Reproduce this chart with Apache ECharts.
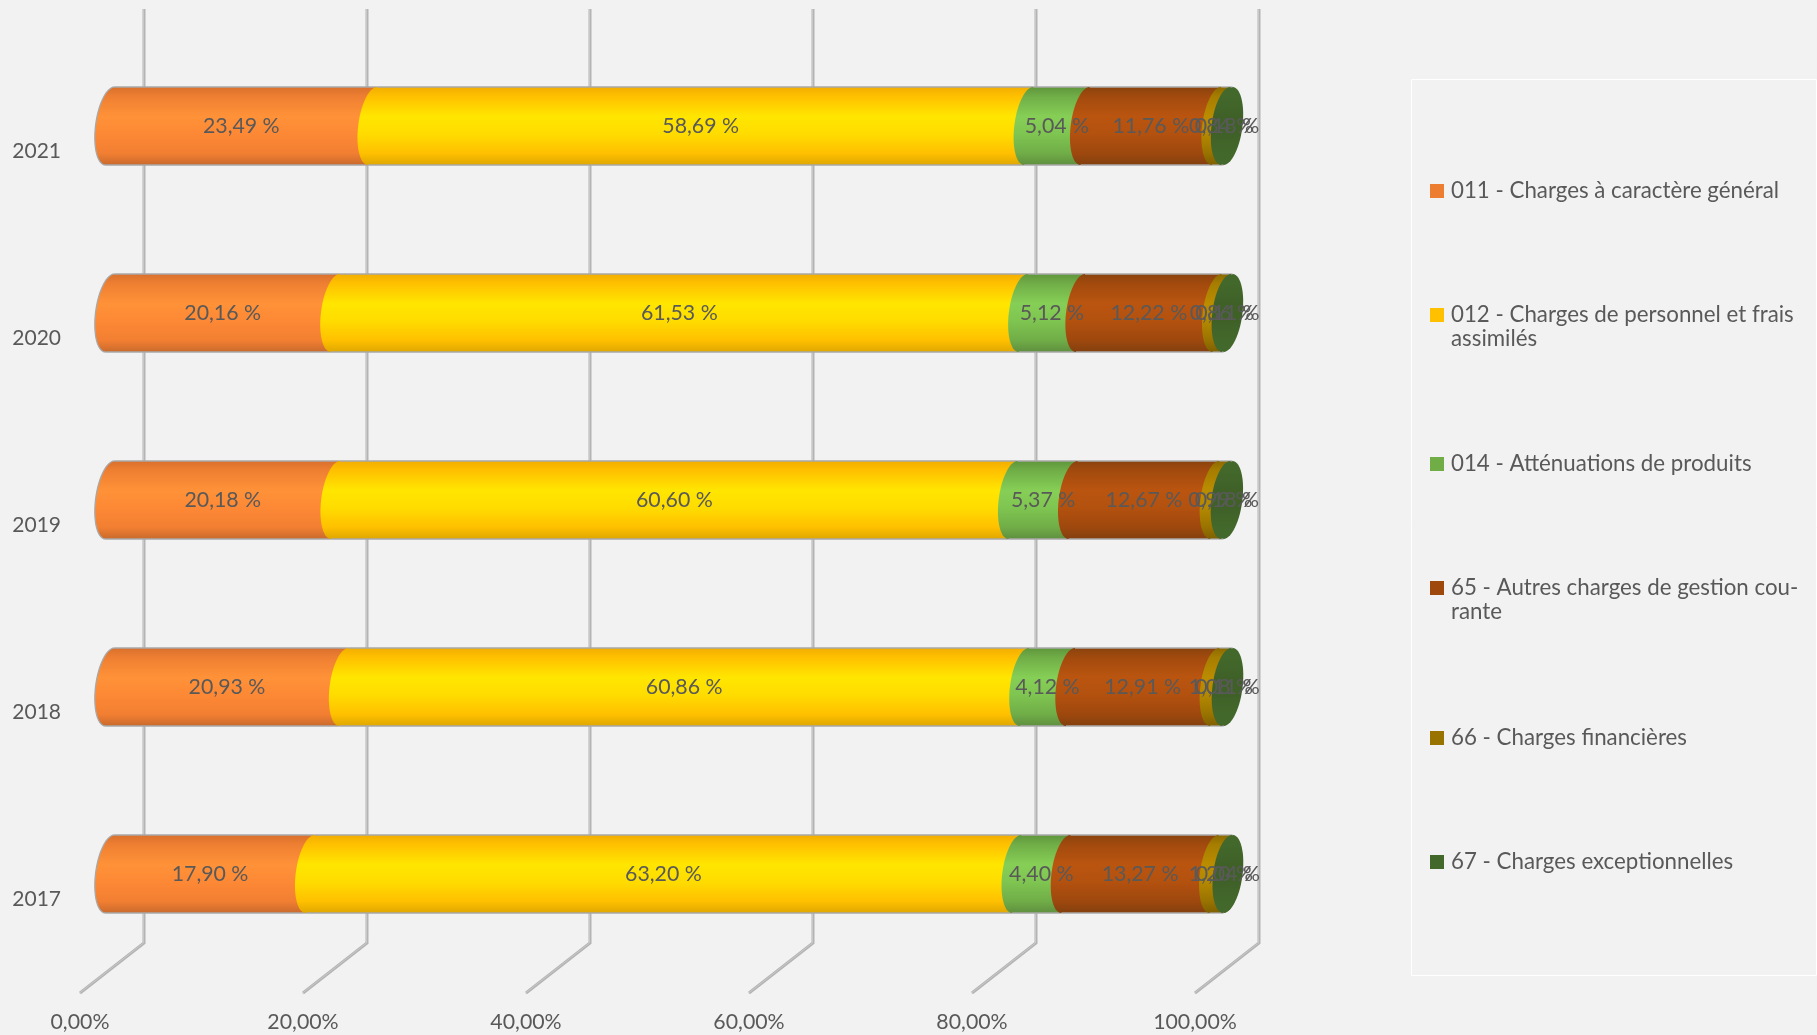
<!DOCTYPE html>
<html><head><meta charset="utf-8">
<style>html,body{margin:0;padding:0;background:#f2f2f2}#c{width:1817px;height:1035px}</style>
<script src="https://cdn.jsdelivr.net/npm/echarts@6/dist/echarts.min.js"></script>
</head><body><div id="c"></div>
<script>
const years = ['2017','2018','2019','2020','2021'];
const names = ['011 - Charges à caractère général','012 - Charges de personnel et frais assimilés','014 - Atténuations de produits','65 - Autres charges de gestion courante','66 - Charges financières','67 - Charges exceptionnelles'];
const legendText = ['011 - Charges à caractère général','012 - Charges de personnel et frais\nassimilés','014 - Atténuations de produits','65 - Autres charges de gestion cou-\nrante','66 - Charges financières','67 - Charges exceptionnelles'];
const v011 = [17.90,20.93,20.18,20.16,23.49];
const v012 = [63.20,60.86,60.60,61.53,58.69];
const v014 = [4.40,4.12,5.37,5.12,5.04];
const v65  = [13.27,12.91,12.67,12.22,11.76];
const v66  = [1.20,1.08,0.99,0.86,0.84];
const v67  = [0.04,0.11,0.18,0.11,0.18];
const xTicks = [0,20,40,60,80,100];
const allValues = [v011,v012,v014,v65,v66,v67];

const flat = ['#ED7D31','#FFC000','#70AD47','#9E480E','#997300','#43682B'];
const shades = [
 ['#d9702c','#ee7f32','#ff9238','#fd8835','#f27f32','#c96a2c'],
 ['#f2ae00','#ffc000','#ffe600','#ffdc00','#ffc000','#dfa700'],
 ['#5f963c','#70ad47','#86cf56','#7fc551','#70ad47','#5f8f3f'],
 ['#8a430d','#a24a0e','#ba5510','#b3510f','#9e480e','#83400e'],
 ['#8c6a00','#a67d00','#ba8c00','#b48800','#997300','#7f6000'],
 ['#43682b','#43682b','#3f6128','#3f6128','#43682b','#43682b']
];
function grad(c){
  const stops=[0,0.12,0.38,0.6,0.85,1];
  return new echarts.graphic.LinearGradient(0,0,0,1,c.map((col,i)=>({offset:stops[i],color:col})));
}
function arc(cx,cy,a,b,sk,from,to){
  const pts=[];
  for(let k=0;k<=28;k++){
    const t=(from+(to-from)*k/28)*Math.PI/180;
    pts.push([cx+a*Math.cos(t)+sk*Math.sin(t),cy-b*Math.sin(t)]);
  }
  return pts;
}
const barA=14.5, barB=39, barS=4.5;

const series=[];
// back wall + floor lines
series.push({
  type:'custom',coordinateSystem:'cartesian2d',xAxisIndex:1,yAxisIndex:1,z:1,silent:true,
  data:xTicks.map(t=>[t,0]),
  encode:{x:0,y:1},
  renderItem:function(p,api){
    const f=api.coord([api.value(0),0]);
    const t=api.coord([api.value(0),1]);
    const pts=[f,[f[0]+64,f[1]-50],[f[0]+64,t[1]]];
    return {type:'group',children:[
      {type:'polyline',shape:{points:pts},style:{stroke:'#b4b4b4',lineWidth:3,fill:null}},
      {type:'polyline',shape:{points:pts.map(q=>[q[0]-0.5,q[1]])},style:{stroke:'#c8c8c8',lineWidth:1,fill:null}}
    ]};
  }
});
// cylinders
const starts=years.map(()=>0);
allValues.forEach((vals,si)=>{
  const rows=vals.map((v,i)=>{const r=[starts[i],starts[i]+v,i];starts[i]+=v;return r;});
  series.push({
    name:names[si],type:'custom',coordinateSystem:'cartesian2d',xAxisIndex:0,yAxisIndex:0,z:2,silent:true,
    itemStyle:{color:flat[si]},
    data:rows,encode:{x:[0,1],y:2},
    renderItem:function(p,api){
      const a=api.coord([api.value(0),api.value(2)]);
      const e=api.coord([api.value(1),api.value(2)]);
      const cy=a[1];
      const left=arc(a[0],cy,barA,barB,barS,90,270);
      const right=arc(e[0],cy,barA,barB,barS,270,450);
      const ch=[{type:'polygon',shape:{points:left.concat(right)},style:{fill:grad(shades[si])}}];
      const stroke={stroke:'#a8a8a8',lineWidth:1.3,fill:null};
      ch.push({type:'polyline',shape:{points:[[a[0]+barS,cy-barB],[e[0]+barS,cy-barB]]},style:stroke});
      ch.push({type:'polyline',shape:{points:[[a[0]-barS,cy+barB],[e[0]-barS,cy+barB]]},style:stroke});
      if(si===0) ch.push({type:'polyline',shape:{points:left},style:stroke});
      return {type:'group',children:ch};
    }
  });
});
// data labels
const cum=years.map(()=>0);
const labelRows=[];
allValues.forEach(vals=>{
  vals.forEach((v,i)=>{labelRows.push([cum[i]+v/2,i,v]);cum[i]+=v;});
});
series.push({
  type:'custom',coordinateSystem:'cartesian2d',xAxisIndex:0,yAxisIndex:0,z:5,silent:true,
  data:labelRows,encode:{x:0,y:1},
  renderItem:function(p,api){
    const c=api.coord([api.value(0),api.value(1)]);
    return {type:'text',style:{
      text:api.value(2).toFixed(2).replace('.',',')+' %',
      x:c[0],y:c[1],align:'center',verticalAlign:'middle',
      fill:'#595959',font:'21.3px Lato'
    }};
  }
});

const legendTops=[179,303,452,576,726,850];
const tall='path://M0 0H14V14H0Z M0 38H14';
const legends=names.map((n,i)=>{
  const wrap=legendText[i].indexOf('\n')>=0;
  return {
    data:[{name:n,icon:wrap?tall:'rect'}],
    left:1430,top:legendTops[i],padding:0,orient:'vertical',
    itemWidth:14,itemHeight:wrap?38:14,selectedMode:false,
    formatter:()=>legendText[i],
    textStyle:{color:'#595959',fontFamily:'Lato',fontSize:22.3,lineHeight:24,padding:[0,0,0,2]}
  };
});

const chart=echarts.init(document.getElementById('c'),null,{renderer:'canvas'});
chart.setOption({
  animation:false,
  backgroundColor:'#f2f2f2',
  tooltip:{show:false},
  grid:[
    {left:110,width:1118,top:32.5,height:935},
    {left:80,width:1115,top:9,height:984}
  ],
  xAxis:[
    {gridIndex:0,type:'value',min:0,max:100,interval:20,show:false},
    {gridIndex:1,type:'value',min:0,max:100,interval:20,
     axisLine:{show:false},axisTick:{show:false},splitLine:{show:false},
     axisLabel:{margin:19,color:'#595959',fontFamily:'Lato',fontSize:21.3,
       formatter:v=>v.toFixed(2).replace('.',',')+'%'}}
  ],
  yAxis:[
    {gridIndex:0,type:'category',data:years,
     axisLine:{show:false},axisTick:{show:false},splitLine:{show:false},
     axisLabel:{margin:49,color:'#595959',fontFamily:'Lato',fontSize:21,verticalAlign:'top',lineHeight:50}},
    {gridIndex:1,type:'value',min:0,max:1,show:false}
  ],
  legend:legends,
  graphic:[{type:'rect',z:0,silent:true,shape:{x:1411.5,y:79.5,width:405,height:896},style:{fill:'none',stroke:'#ffffff',lineWidth:1}}],
  series:series
});
</script></body></html>
